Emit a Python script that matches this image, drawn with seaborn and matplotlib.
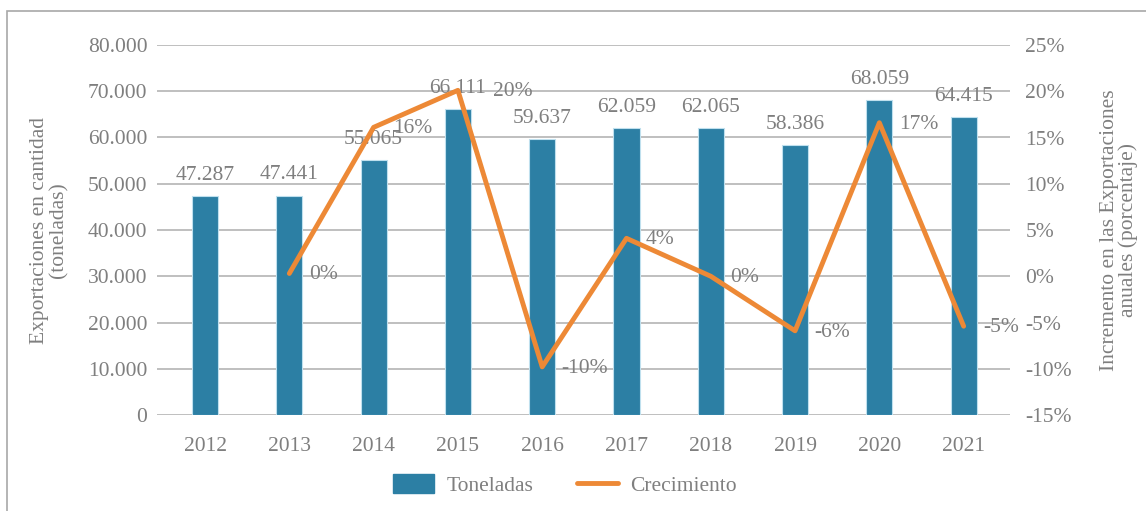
import numpy as np
import pandas as pd
import matplotlib
matplotlib.use("Agg")
import matplotlib.pyplot as plt
from matplotlib.patches import Rectangle, Patch
from matplotlib.lines import Line2D
from matplotlib.ticker import FuncFormatter, MultipleLocator
import seaborn as sns

# data
years = ["2012", "2013", "2014", "2015", "2016", "2017", "2018", "2019", "2020", "2021"]
toneladas = [47287, 47441, 55065, 66111, 59637, 62059, 62065, 58386, 68059, 64415]
growth_years = ["2013", "2014", "2015", "2016", "2017", "2018", "2019", "2020", "2021"]
crecimiento = [0.3, 16.1, 20.1, -9.8, 4.1, 0.0, -5.9, 16.6, -5.4]

bar_color = "#2C7FA4"
line_color = "#ED8936"
text_color = "#7F7F7F"
grid_color = "#B4B4B4"
fs = 15.5

sns.set_theme(style="white")
plt.rcParams["font.family"] = ["Liberation Serif", "DejaVu Serif"]
plt.rcParams["font.size"] = fs

df_bar = pd.DataFrame({"year": years, "toneladas": toneladas})
df_line = pd.DataFrame({"pos": [years.index(y) for y in growth_years], "crec": crecimiento})

fig = plt.figure(figsize=(11.46, 5.11), dpi=100)
ax = fig.add_axes([157 / 1146, 1 - 415 / 511, (1010 - 157) / 1146, (415 - 45) / 511])

# outer frame (cropped at right/bottom like the reference)
fig.patches.append(Rectangle((7 / 1146, -0.1), 1.2, 1 - 11 / 511 + 0.1, transform=fig.transFigure,
                             fill=False, edgecolor="#A8A8A8", linewidth=1.2))

sns.barplot(data=df_bar, x="year", y="toneladas", color=bar_color, width=0.31,
            edgecolor="#BFE0EE", linewidth=0.8, saturation=1, ax=ax, zorder=2)
ax.set_ylim(0, 80000)
ax.set_xlim(-0.57, 9.55)
ax.yaxis.set_major_locator(MultipleLocator(10000))
ax.yaxis.set_major_formatter(FuncFormatter(lambda v, p: f"{int(v):,}".replace(",", ".")))
ax.grid(axis="y", color=grid_color, linewidth=1.2, zorder=0)
ax.set_axisbelow(True)
for s in ax.spines.values():
    s.set_visible(False)
ax.tick_params(axis="both", length=0, colors=text_color, labelsize=fs)
ax.tick_params(axis="y", pad=7)
ax.tick_params(axis="x", pad=16)
ax.set_xlabel("")
ax.set_ylabel("Exportaciones en cantidad\n(toneladas)", color=text_color, fontsize=fs, linespacing=1.0)
ax.yaxis.set_label_coords(-0.104, 0.5)

for c in ax.containers:
    ax.bar_label(c, labels=[f"{int(v):,}".replace(",", ".") for v in c.datavalues],
                 padding=8, color=text_color, fontsize=fs)

ax2 = ax.twinx()
sns.lineplot(data=df_line, x="pos", y="crec", color=line_color, linewidth=3.5, ax=ax2, zorder=3)
ax2.set_ylim(-15, 25)
ax2.yaxis.set_major_locator(MultipleLocator(5))
ax2.yaxis.set_major_formatter(FuncFormatter(lambda v, p: f"{int(round(v))}%"))
for s in ax2.spines.values():
    s.set_visible(False)
ax2.tick_params(axis="y", length=0, colors=text_color, labelsize=fs, pad=11)
ax2.set_xlabel("")
ax2.set_ylabel("Incremento en las Exportaciones\nanuales (porcentaje)", color=text_color,
               fontsize=fs, linespacing=1.0)
ax2.yaxis.set_label_coords(1.105, 0.5)
ax2.grid(False)

# label offsets (points) to the right of each growth point
for yr, x, v in zip(growth_years, df_line["pos"], df_line["crec"]):
    dx = 25 if yr == "2015" else 14
    ax2.annotate(f"{int(round(v))}%", (x, v), xytext=(dx, -1), textcoords="offset points",
                 ha="left", va="center", color=text_color, fontsize=fs)

handles = [Patch(facecolor=bar_color, edgecolor=bar_color),
           Line2D([0], [0], color=line_color, linewidth=3.5)]
fig.legend(handles, ["Toneladas", "Crecimiento"], loc="center", bbox_to_anchor=(565 / 1146, 1 - 485 / 511),
           ncol=2, frameon=False, fontsize=fs, labelcolor=text_color, handlelength=1.9,
           handleheight=1.0, columnspacing=2.0, handletextpad=0.6)

fig.savefig("out.png", dpi=100)
